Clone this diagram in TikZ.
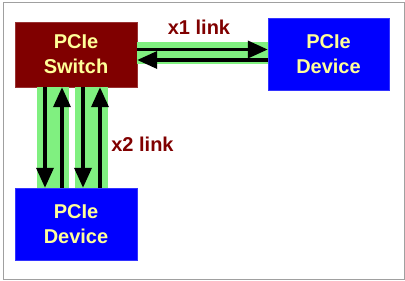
\documentclass[tikz,border=0pt]{standalone}
\usepackage{fontspec}
\setmainfont{Liberation Sans}
\usepackage{tikz}
\usetikzlibrary{positioning,arrows.meta,calc}
\definecolor{switchRed}{HTML}{800000}
\definecolor{devBlue}{HTML}{0000FF}
\definecolor{linkGreen}{HTML}{80F080}
\definecolor{boxText}{HTML}{FFFF99}
\definecolor{frameGray}{HTML}{A0A0A0}

\begin{document}
\begin{tikzpicture}[x=1pt,y=-1pt,font=\bfseries\fontsize{20}{25}\selectfont,
      unit/.style={draw,text=boxText,inner sep=0pt,align=center,minimum width=122pt},
      band/.style={linkGreen,line width=#1},
      wire/.style={line width=3.5pt,-{Triangle[length=20pt,width=17pt]}},
      lbl/.style={text=switchRed}]
    \useasboundingbox (0,0) rectangle (405,281);
    \draw[frameGray] (3,2) rectangle (404,279);

    \node[unit,fill=switchRed,draw=switchRed!80,minimum height=65pt] (sw) at (76,54.5) {PCIe \\ Switch};
    \node[unit,fill=devBlue,draw=devBlue!80,minimum height=72pt,minimum width=121pt] (devR) at (328.5,54) {PCIe \\ Device};
    \node[unit,fill=devBlue,draw=devBlue!80,minimum height=72pt] (devB) at (76,224) {PCIe \\ Device};

    % x1 link
    \draw[band=22pt] (sw.east |- 0,53) -- (devR.west |- 0,53);
    \draw[wire] (sw.east |- 0,49.5) -- (devR.west |- 0,49.5);
    \draw[wire] (devR.west |- 0,60) -- (sw.east |- 0,60);
    \node[lbl] (x1) at (199,27) {x1 link};

    % x2 link
    \draw[band=32pt] (sw.south -| 53,0) -- (devB.north -| 53,0);
    \draw[band=33pt] (sw.south -| 91.5,0) -- (devB.north -| 91.5,0);
    \draw[wire] (sw.south -| 45,0) -- (devB.north -| 45,0);
    \draw[wire] (devB.north -| 62,0) -- (sw.south -| 62,0);
    \draw[wire] (sw.south -| 83,0) -- (devB.north -| 83,0);
    \draw[wire] (devB.north -| 100,0) -- (sw.south -| 100,0);
    \node[lbl] (x2) at (142.5,144) {x2 link};
  \end{tikzpicture}
\end{document}
